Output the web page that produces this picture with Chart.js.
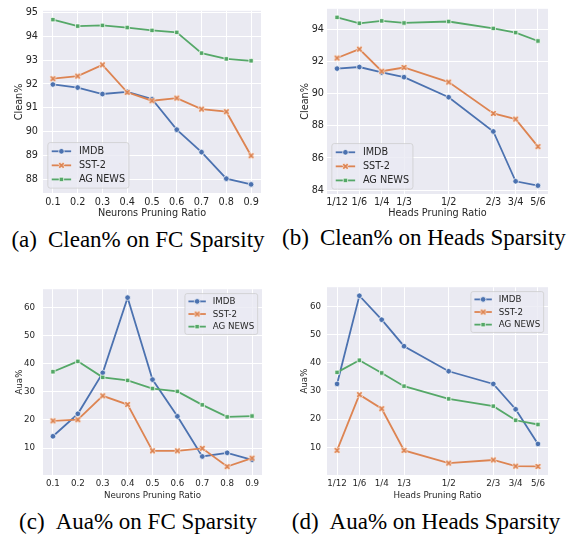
<!DOCTYPE html>
<html>
<head>
<meta charset="utf-8">
<script src="https://cdn.jsdelivr.net/npm/chart.js@4.4.1/dist/chart.umd.min.js"></script>
<style>
body{margin:0;background:#fff;width:576px;height:537px;position:relative;overflow:hidden}
canvas{position:absolute;display:block}
.cap{position:absolute;font-family:"Liberation Serif","Times New Roman",serif;font-size:23px;line-height:23px;color:#000;text-align:center;white-space:nowrap;width:300px}
.gap{display:inline-block;width:11px}
</style>
</head>
<body>
<canvas id="cleanFc" width="288" height="222" style="left:0;top:0"></canvas>
<canvas id="cleanHead" width="288" height="222" style="left:288px;top:0"></canvas>
<canvas id="auaFc" width="288" height="226" style="left:0;top:276px"></canvas>
<canvas id="auaHead" width="288" height="226" style="left:288px;top:276px"></canvas>

<div class="cap" style="left:-12px;top:228px">(a)<span class="gap"></span>Clean% on FC Sparsity</div>
<div class="cap" style="left:274px;top:226px">(b)<span class="gap"></span>Clean% on Heads Sparsity</div>
<div class="cap" style="left:-12px;top:510px">(c)<span class="gap"></span>Aua% on FC Sparsity</div>
<div class="cap" style="left:276px;top:510px">(d)<span class="gap"></span>Aua% on Heads Sparsity</div>

<script>
// x values and tick labels
const fcRatios = [0.1,0.2,0.3,0.4,0.5,0.6,0.7,0.8,0.9];
const fcLabels = ["0.1","0.2","0.3","0.4","0.5","0.6","0.7","0.8","0.9"];
const headRatios = [1/12,1/6,1/4,1/3,1/2,2/3,3/4,5/6];
const headLabels = ["1/12","1/6","1/4","1/3","1/2","2/3","3/4","5/6"];
const seriesNames = ["IMDB","SST-2","AG NEWS"];

// y ticks
const cleanFcTicks = [88,89,90,91,92,93,94,95];
const cleanHeadTicks = [84,86,88,90,92,94];
const auaTicks = [10,20,30,40,50,60];

// (a) Clean% on FC sparsity
const cleanFcImdb = [91.98,91.85,91.58,91.67,91.37,90.09,89.15,88.04,87.80];
const cleanFcSst2 = [92.22,92.33,92.80,91.65,91.30,91.41,90.95,90.84,89.00];
const cleanFcAgNews = [94.69,94.42,94.45,94.36,94.24,94.16,93.29,93.05,92.97];

// (b) Clean% on heads sparsity
const cleanHeadImdb = [91.56,91.66,91.32,91.03,89.78,87.65,84.55,84.28];
const cleanHeadSst2 = [92.22,92.77,91.40,91.63,90.72,88.77,88.42,86.71];
const cleanHeadAgNews = [94.75,94.38,94.53,94.40,94.49,94.06,93.80,93.28];

// (c) Aua% on FC sparsity
const auaFcImdb = [14.2,22.2,36.8,63.6,34.4,21.3,7.0,8.3,5.8];
const auaFcSst2 = [19.7,20.1,28.6,25.5,9.0,9.0,9.9,3.4,6.4];
const auaFcAgNews = [37.2,40.9,35.2,34.1,31.2,30.2,25.4,21.1,21.4];

// (d) Aua% on heads sparsity
const auaHeadImdb = [32.5,63.8,55.3,45.9,37.0,32.5,23.5,11.2];
const auaHeadSst2 = [8.9,28.7,23.7,8.9,4.4,5.5,3.3,3.2];
const auaHeadAgNews = [36.6,40.9,36.4,31.7,27.2,24.6,19.6,18.1];

const colors = ["#4C72B0","#DD8452","#55A868"];
const textColor = "#262626";
const fontFamily = "'DejaVu Sans', sans-serif";

// filled X marker like matplotlib's "X"
function xMarker(color, size){
const c = document.createElement("canvas");
const s = Math.ceil(size + 2);
c.width = s; c.height = s;
const g = c.getContext("2d");
const pts = [[-0.25,-0.5],[0,-0.25],[0.25,-0.5],[0.5,-0.25],[0.25,0],[0.5,0.25],
[0.25,0.5],[0,0.25],[-0.25,0.5],[-0.5,0.25],[-0.25,0],[-0.5,-0.25]];
g.beginPath();
pts.forEach((p,i) => {
const x = s/2 + p[0]*size, y = s/2 + p[1]*size;
if(i) g.lineTo(x,y); else g.moveTo(x,y);
});
g.closePath();
g.fillStyle = color;
g.fill();
g.strokeStyle = "#fff";
g.lineWidth = 0.7;
g.stroke();
return c;
}

const markerX = xMarker(colors[1], 6.6);
const pointStyles = ["circle", markerX, "rect"];
const pointRadii = [2.8, 3, 3.1];

// plot background
const bgPlugin = {
id:"plotBg",
beforeDraw(chart){
const {ctx, chartArea:a} = chart;
ctx.save();
ctx.fillStyle = "#EAEAF2";
ctx.fillRect(a.left, a.top, a.width, a.height);
ctx.restore();
}
};

// matplotlib style legend: line + marker inside a framed box
const legendPlugin = {
id:"boxLegend",
afterDatasetsDraw(chart, args, opts){
const {ctx, chartArea:a} = chart;
const fs = opts.fontSize;
const sets = chart.data.datasets;
ctx.save();
ctx.font = fs + "px " + fontFamily;
const textW = Math.max(...sets.map(d => ctx.measureText(d.label).width));
const step = 1.45*fs;
const w = 3.6*fs + textW;
const h = (sets.length-1)*step + 1.8*fs;
const pad = 0.5*fs;
const x0 = opts.corner === "lower left" ? a.left + pad : a.right - pad - w;
const y0 = opts.corner === "lower left" ? a.bottom - pad - h : a.top + pad;

ctx.beginPath();
if(ctx.roundRect) ctx.roundRect(x0, y0, w, h, 0.25*fs); else ctx.rect(x0, y0, w, h);
ctx.fillStyle = "rgba(234,234,242,0.8)";
ctx.fill();
ctx.strokeStyle = "rgba(204,204,204,0.8)";
ctx.lineWidth = 0.9;
ctx.stroke();

sets.forEach((d,i) => {
const cy = y0 + 0.9*fs + i*step;
ctx.beginPath();
ctx.moveTo(x0 + 0.4*fs, cy);
ctx.lineTo(x0 + 2.4*fs, cy);
ctx.strokeStyle = d.borderColor;
ctx.lineWidth = d.borderWidth;
ctx.stroke();
ctx.fillStyle = d.pointBackgroundColor;
ctx.strokeStyle = "#fff";
ctx.lineWidth = d.pointBorderWidth;
Chart.helpers.drawPoint(ctx, {pointStyle:d.pointStyle, radius:d.pointRadius, borderWidth:d.pointBorderWidth, rotation:0}, x0 + 1.4*fs, cy);
ctx.fillStyle = textColor;
ctx.textBaseline = "middle";
ctx.textAlign = "left";
ctx.fillText(d.label, x0 + 3.2*fs, cy + 0.5);
});
ctx.restore();
}
};

function makeDatasets(xs, series){
return series.map((ys,i) => ({
label: seriesNames[i],
data: xs.map((x,j) => ({x:x, y:ys[j]})),
borderColor: colors[i],
backgroundColor: colors[i],
borderWidth: 1.8,
tension: 0,
pointStyle: pointStyles[i],
pointRadius: pointRadii[i],
pointBackgroundColor: colors[i],
pointBorderColor: "#fff",
pointBorderWidth: 0.7,
order: 3 - i
}));
}

function makePanel(id, p){

new Chart(document.getElementById(id),{

type:"line",

data:{ datasets: makeDatasets(p.xs, p.series) },

options:{
responsive:false,
animation:false,
events:[],
layout:{ padding:{left:0, top:p.top, right:p.right, bottom:0} },
plugins:{
legend:{display:false},
tooltip:{enabled:false},
boxLegend:{fontSize:p.fs, corner:p.corner}
},
scales:{
x:{
type:"linear",
min:p.xMin, max:p.xMax,
afterBuildTicks: s => { s.ticks = p.xs.map(v => ({value:v})); },
afterFit: s => { s.height = p.xAxisH; },
ticks:{ callback:(v,i) => p.xLabels[i], autoSkip:false, maxRotation:0, padding:p.xTickPad,
color:textColor, font:{family:fontFamily, size:p.fs} },
grid:{ color:"#fff", lineWidth:1, drawTicks:false },
border:{ display:false },
title:{ display:true, text:p.xTitle, color:textColor, padding:{top:0, bottom:p.xTitlePad},
font:{family:fontFamily, size:p.fs} }
},
y:{
min:p.yMin, max:p.yMax,
afterBuildTicks: s => { s.ticks = p.yTicks.map(v => ({value:v})); },
afterFit: s => { s.width = p.yAxisW; },
ticks:{ padding:p.yTickPad, color:textColor, font:{family:fontFamily, size:p.fs} },
grid:{ color:"#fff", lineWidth:1, drawTicks:false },
border:{ display:false },
title:{ display:true, text:p.yTitle, color:textColor, padding:{top:p.yTitlePad, bottom:0},
font:{family:fontFamily, size:p.fs} }
}
}
},

plugins:[bgPlugin, legendPlugin]

});

}

makePanel("cleanFc",{
xs:fcRatios, xLabels:fcLabels, series:[cleanFcImdb, cleanFcSst2, cleanFcAgNews],
xMin:0.06, xMax:0.94, yMin:87.44, yMax:95.06, yTicks:cleanFcTicks,
xTitle:"Neurons Pruning Ratio", yTitle:"Clean%", fs:9.7, corner:"lower left",
top:4, right:27, yAxisW:43, xAxisH:29, xTickPad:4, xTitlePad:3, yTickPad:5, yTitlePad:14
});

makePanel("cleanHead",{
xs:headRatios, xLabels:headLabels, series:[cleanHeadImdb, cleanHeadSst2, cleanHeadAgNews],
xMin:0.0458, xMax:0.8708, yMin:83.76, yMax:95.28, yTicks:cleanHeadTicks,
xTitle:"Heads Pruning Ratio", yTitle:"Clean%", fs:9.7, corner:"lower left",
top:4, right:28, yAxisW:39, xAxisH:28, xTickPad:2.5, xTitlePad:3, yTickPad:3, yTitlePad:11.5
});

makePanel("auaFc",{
xs:fcRatios, xLabels:fcLabels, series:[auaFcImdb, auaFcSst2, auaFcAgNews],
xMin:0.06, xMax:0.94, yMin:0.4, yMax:66.6, yTicks:auaTicks,
xTitle:"Neurons Pruning Ratio", yTitle:"Aua%", fs:8.7, corner:"upper right",
top:9, right:26, yAxisW:43, xAxisH:27, xTickPad:4, xTitlePad:1, yTickPad:8, yTitlePad:14.8
});

makePanel("auaHead",{
xs:headRatios, xLabels:headLabels, series:[auaHeadImdb, auaHeadSst2, auaHeadAgNews],
xMin:0.0458, xMax:0.8708, yMin:0.17, yMax:66.83, yTicks:auaTicks,
xTitle:"Heads Pruning Ratio", yTitle:"Aua%", fs:8.7, corner:"upper right",
top:9, right:28, yAxisW:39, xAxisH:27, xTickPad:4, xTitlePad:1, yTickPad:6, yTitlePad:12
});
</script>
</body>
</html>
